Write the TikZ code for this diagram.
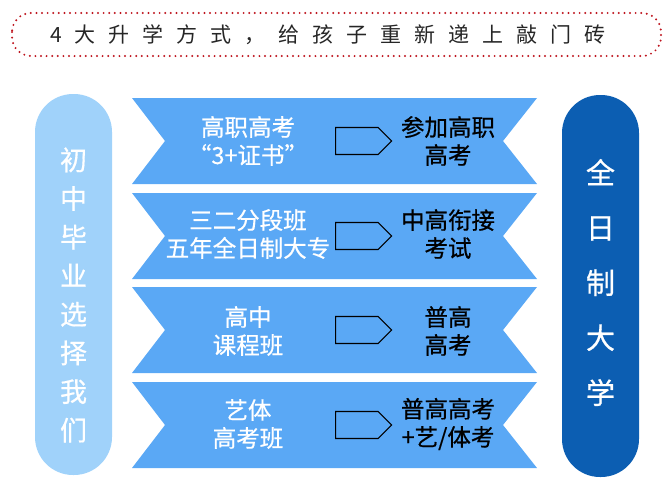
\documentclass[tikz,border=0pt]{standalone}
\usepackage{fontspec}
\setmainfont{Noto Sans CJK SC}
\newfontfamily\medfont[AutoFakeBold=0.6]{Noto Sans CJK SC}
\usetikzlibrary{shapes.symbols}
\definecolor{ribbonblue}{RGB}{90,168,245}
\definecolor{pilllight}{RGB}{160,210,250}
\definecolor{pilldark}{RGB}{12,94,178}
\definecolor{dotred}{RGB}{190,20,30}
\tikzset{
  ribbontext/.style={text=white,align=center,font=\medfont\bfseries\fontsize{23.5}{28}\selectfont},
  goaltext/.style={text=black,align=center,font=\medfont\bfseries\fontsize{23.5}{28}\selectfont},
  pointer/.style={signal,signal to=east,draw=black,line width=1.1pt,inner sep=0pt,
    minimum width=56pt,minimum height=27pt,anchor=west},
}
\begin{document}
\begin{tikzpicture}[x=1pt,y=-1pt]
  \useasboundingbox (0,0) rectangle (669,491);
  % title
  \draw[dotred,line width=2.2pt,line cap=round,dash pattern=on 0pt off 5.6pt,
    rounded corners=19pt] (12,13) rectangle (661,56);
  \node[text=black!85,font=\fontsize{21}{21}\addfontfeatures{LetterSpace=62}\selectfont]
    (title) at (328,35) {4大升学方式，给孩子重新递上敲门砖};

  % side pills
  \node[fill=pilllight,rounded corners=38pt,minimum width=77pt,minimum height=381pt]
    (start) at (73.5,284.5) {};
  \node[text=white,align=center,font=\medfont\bfseries\fontsize{27}{38.6}\selectfont]
    (starttext) at (73.5,295) {初\\中\\毕\\业\\选\\择\\我\\们};
  \node[fill=pilldark,rounded corners=38pt,minimum width=77pt,minimum height=382pt]
    (goal) at (600.5,286) {};
  \node[text=white,align=center,font=\medfont\bfseries\fontsize{29}{55}\selectfont]
    (goaltitle) at (600.5,282.5) {全\\日\\制\\大\\学};

  % ribbons and pointers
  \foreach \c [count=\i] in {141,236,330,425}{
    \fill[ribbonblue] (132,\c-43) -- (537,\c-43) -- (503,\c) -- (537,\c+43)
      -- (132,\c+43) -- (165,\c) -- cycle;
    \node[pointer] (arrow\i) at (335,\c) {};
  }

  \node[ribbontext] (route1) at (248,141) {高职高考\\“3+证书”};
  \node[goaltext] (exam1) at (448,141) {参加高职\\高考};
  \node[ribbontext] (route2) at (248,234) {三二分段班\\五年全日制大专};
  \node[goaltext] (exam2) at (448,234) {中高衔接\\考试};
  \node[ribbontext] (route3) at (248,331) {高中\\课程班};
  \node[goaltext] (exam3) at (448,331) {普高\\高考};
  \node[ribbontext] (route4) at (248,424) {艺体\\高考班};
  \node[goaltext] (exam4) at (448,424) {普高高考\\+艺/体考};
\end{tikzpicture}
\end{document}
